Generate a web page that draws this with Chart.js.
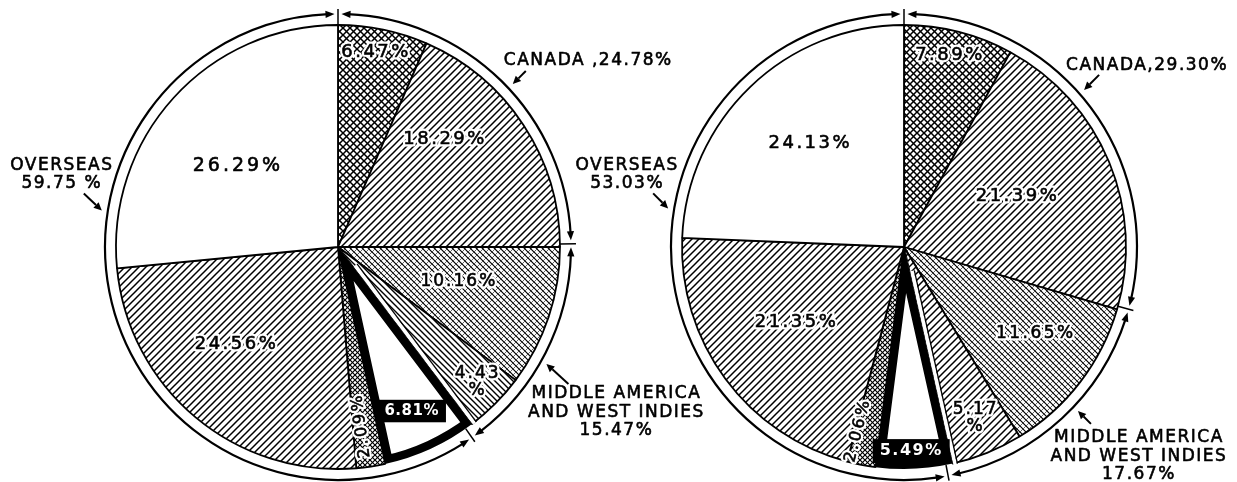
<!DOCTYPE html>
<html><head><meta charset="utf-8">
<script src="https://cdn.jsdelivr.net/npm/chart.js@4.4.1/dist/chart.umd.min.js"></script>
<style>
html,body{margin:0;padding:0;background:#fff;width:1237px;height:482px;overflow:hidden}
canvas{position:absolute;left:0;top:0}
</style></head><body>
<canvas id="c1" width="1237" height="482"></canvas>
<canvas id="c2" width="1237" height="482"></canvas>
<script>
// ---------- data ----------
const sliceLabels = ['Canada (a)','Canada (b)','Middle America (a)','Middle America (b)','Overseas (a)','Overseas (b)','Overseas (c)','Overseas (d)'];
const leftValues  = [6.47, 18.29, 10.16, 4.43, 6.81, 2.09, 24.56, 26.29];
const rightValues = [7.89, 21.39, 11.65, 5.17, 5.49, 2.06, 21.35, 24.13];
const groupNames = ['CANADA', 'MIDDLE AMERICA AND WEST INDIES', 'OVERSEAS'];
const leftGroupValues  = [24.78, 15.47, 59.75];
const rightGroupValues = [29.30, 17.67, 53.03];

// ---------- patterns ----------
function makePattern(kind){
  if (kind === 'white') return '#ffffff';
  const c = document.createElement('canvas');
  const s = {cross:7, fineCross:5, diagUp:7, diagDown:6, dotCross:6}[kind];
  c.width = s; c.height = s;
  const g = c.getContext('2d');
  g.fillStyle = '#fff'; g.fillRect(0,0,s,s);
  g.strokeStyle = '#000'; g.lineCap = 'square';
  function up(lw, col){ g.lineWidth = lw; g.strokeStyle = col||'#000'; g.beginPath();
    for (let k=-1;k<=1;k++){ g.moveTo(k*s, s); g.lineTo(k*s+s, 0); } g.stroke(); }
  function down(lw, col){ g.lineWidth = lw; g.strokeStyle = col||'#000'; g.beginPath();
    for (let k=-1;k<=1;k++){ g.moveTo(k*s, 0); g.lineTo(k*s+s, s); } g.stroke(); }
  if (kind==='cross'){ up(1.5); down(1.5); }
  if (kind==='fineCross'){ up(1.2); down(1.2); }
  if (kind==='diagUp'){ up(1.5); }
  if (kind==='diagDown'){ down(1.4); }
  if (kind==='dotCross'){ down(1.2); up(0.9,'#555'); }
  return g.createPattern(c, 'repeat');
}

// ---------- decoration plugin (ring arrows, labels) ----------
function polar(cx, cy, thetaDeg, r){ const a=(thetaDeg-90)*Math.PI/180; return [cx+r*Math.cos(a), cy+r*Math.sin(a)]; }
function setLS(ctx, v){ if ('letterSpacing' in ctx) ctx.letterSpacing = v + 'px'; }
const FONT = '"DejaVu Sans", "Liberation Sans", sans-serif';

function makeDecor(cfg){
  return {
    id: 'pieDecor',
    afterDatasetsDraw(chart){
      const ctx = chart.ctx;
      const ringMeta = chart.getDatasetMeta(0);
      const sliceMeta = chart.getDatasetMeta(2);
      const a0el = sliceMeta.data[0];
      const cx = a0el.x, cy = a0el.y, pieR = a0el.outerRadius;
      ctx.save();
      // white gap next to the heavy slice
      const th = sliceMeta.data[cfg.thick];
      if (th){
        const a = th.startAngle, px = Math.sin(a), py = -Math.cos(a);
        const seg = (off, lw, col) => { ctx.beginPath(); ctx.lineWidth = lw; ctx.strokeStyle = col;
          ctx.moveTo(cx + 25*Math.cos(a) + off*px, cy + 25*Math.sin(a) + off*py);
          ctx.lineTo(cx + (pieR+1)*Math.cos(a) + off*px, cy + (pieR+1)*Math.sin(a) + off*py); ctx.stroke(); };
        seg(2.6, 3.6, '#fff'); seg(5, 1.3, '#000');
      }
      // outer ring with arrows
      ctx.strokeStyle = '#000'; ctx.fillStyle = '#000';
      ringMeta.data.forEach(arc => {
        const r = (arc.innerRadius + arc.outerRadius)/2;
        const gap = 3.5 / r, L = 9 / r, w = 3.6;
        const s = arc.startAngle + gap, e = arc.endAngle - gap;
        ctx.lineWidth = 2.2;
        ctx.beginPath(); ctx.arc(cx, cy, r, s + L*0.7, e - L*0.7); ctx.stroke();
        [[s,1],[e,-1]].forEach(([a,dir]) => {
          const b = a + dir*L;
          ctx.beginPath();
          ctx.moveTo(cx + r*Math.cos(a), cy + r*Math.sin(a));
          ctx.lineTo(cx + (r+w)*Math.cos(b), cy + (r+w)*Math.sin(b));
          ctx.lineTo(cx + (r-w)*Math.cos(b), cy + (r-w)*Math.sin(b));
          ctx.closePath(); ctx.fill();
        });
        const t = arc.startAngle;
        ctx.lineWidth = 1.5;
        ctx.beginPath();
        ctx.moveTo(cx + pieR*Math.cos(t), cy + pieR*Math.sin(t));
        ctx.lineTo(cx + (arc.outerRadius+3)*Math.cos(t), cy + (arc.outerRadius+3)*Math.sin(t));
        ctx.stroke();
      });
      // slice labels
      const vals = chart.data.datasets[2].data;
      ctx.textAlign = 'center'; ctx.textBaseline = 'middle'; ctx.lineJoin = 'round';
      sliceMeta.data.forEach((arc, i) => {
        const L = cfg.labels[i]; if (!L) return;
        const a = arc.startAngle + L.t*(arc.endAngle - arc.startAngle);
        const r = L.r * arc.outerRadius;
        const x = cx + r*Math.cos(a), y = cy + r*Math.sin(a);
        const v = vals[i].toFixed(2);
        const lines = L.split ? [v, '%'] : [v + '%'];
        ctx.save();
        ctx.translate(x, y);
        if (L.rot) ctx.rotate(a + Math.PI);
        ctx.font = (L.bold ? 'bold ' : '') + L.size + 'px ' + FONT;
        setLS(ctx, L.ls);
        const lh = L.size * 1.0;
        if (L.inverse){
          const wd = ctx.measureText(lines[0]).width;
          ctx.fillStyle = '#000';
          ctx.fillRect(-wd/2 - 7, -L.size*0.75, wd + 14, L.size*1.5);
          ctx.fillStyle = '#fff';
          lines.forEach((ln,k) => ctx.fillText(ln, 0, (k-(lines.length-1)/2)*lh));
        } else {
          ctx.fillStyle = '#000';
          lines.forEach((ln,k) => { const yy=(k-(lines.length-1)/2)*lh;
            ctx.strokeStyle = '#fff'; ctx.lineWidth = 5; ctx.strokeText(ln, 0, yy);
            ctx.fillText(ln, 0, yy);
            ctx.strokeStyle = '#000'; ctx.lineWidth = 0.6; ctx.strokeText(ln, 0, yy); });
        }
        ctx.restore();
      });
      // group labels with pointer arrows
      const gvals = chart.data.datasets[0].data;
      cfg.groups.forEach((G, i) => {
        const tip = polar(cx, cy, G.theta, 239);
        const tail = [tip[0] + G.tail[0], tip[1] + G.tail[1]];
        ctx.strokeStyle = '#000'; ctx.fillStyle = '#000'; ctx.lineWidth = 2;
        const ang = Math.atan2(tip[1]-tail[1], tip[0]-tail[0]);
        const hl = 8, hw = 3.8;
        const bx = tip[0] - hl*Math.cos(ang), by = tip[1] - hl*Math.sin(ang);
        ctx.beginPath(); ctx.moveTo(tail[0], tail[1]); ctx.lineTo(bx, by); ctx.stroke();
        ctx.beginPath(); ctx.moveTo(tip[0], tip[1]);
        ctx.lineTo(bx + hw*Math.sin(ang), by - hw*Math.cos(ang));
        ctx.lineTo(bx - hw*Math.sin(ang), by + hw*Math.cos(ang));
        ctx.closePath(); ctx.fill();
        ctx.font = '17px ' + FONT; setLS(ctx, 1.5);
        ctx.textAlign = G.align; ctx.textBaseline = 'middle';
        ctx.lineWidth = 0.6;
        G.lines.forEach((ln, k) => {
          const txt = ln.replace('{v}', gvals[i].toFixed(2));
          const tx = tip[0] + G.dx, ty = tip[1] + G.dy + k*18.5;
          ctx.fillText(txt, tx, ty); ctx.strokeText(txt, tx, ty);
        });
      });
      ctx.restore();
    }
  };
}

function makeChart(id, values, groupValues, patternKeys, padding, cfg){
  const bw = values.map((v,i) => i === cfg.thick ? 8 : 1.8);
  const ba = values.map((v,i) => i === cfg.thick ? 'inner' : 'center');
  return new Chart(document.getElementById(id), {
    type: 'pie',
    data: {
      labels: sliceLabels,
      datasets: [
        { label: 'groups', data: groupValues, weight: 4, backgroundColor: 'rgba(0,0,0,0)', borderWidth: 0, clip: false },
        { label: 'gap', data: [1], weight: 9, backgroundColor: 'rgba(0,0,0,0)', borderWidth: 0, clip: false },
        { label: 'share', data: values, weight: 222, backgroundColor: patternKeys.map(makePattern),
          borderColor: '#000', borderWidth: bw, borderAlign: ba, clip: false }
      ]
    },
    options: {
      responsive: false, animation: false, devicePixelRatio: 1, radius: 235,
      layout: { padding }, events: [],
      plugins: { legend: { display: false }, tooltip: { enabled: false } }
    },
    plugins: [makeDecor(cfg)]
  });
}

makeChart('c1', leftValues, leftGroupValues,
  ['cross','diagUp','dotCross','diagDown','white','fineCross','diagUp','white'],
  { left: 0, right: 561, top: 12, bottom: 0 },
  {
    thick: 4,
    labels: [
      {t:.47, r:.895, size:18, ls:2.5},
      {t:.32, r:.685, size:18, ls:2.5},
      {t:.43, r:.566, size:17, ls:2},
      {t:.45, r:.876, size:17, ls:2, split:true},
      {t:.52, r:.81,  size:15, ls:0.5, bold:true, inverse:true},
      {t:.65, r:.81,  size:16, ls:3, rot:true},
      {t:.57, r:.634, size:18, ls:2.5},
      {t:.466,r:.58,  size:19, ls:3}
    ],
    groups: [
      {theta:47,    tail:[13,-13], dx:-9,  dy:-23, align:'left',   lines:['CANADA ,{v}%']},
      {theta:119.3, tail:[22,20],  dx:70,  dy:30,  align:'center', lines:['MIDDLE AMERICA','AND WEST INDIES','{v}%']},
      {theta:278.8, tail:[-18,-17],dx:-40, dy:-45, align:'center', lines:['OVERSEAS','{v} %']}
    ]
  });

makeChart('c2', rightValues, rightGroupValues,
  ['cross','diagUp','dotCross','diagUp','white','fineCross','diagUp','white'],
  { left: 571, right: 0, top: 12, bottom: 0 },
  {
    thick: 4,
    labels: [
      {t:.47, r:.89,  size:18, ls:2.5},
      {t:.48, r:.56,  size:18, ls:2.5},
      {t:.40, r:.71,  size:17, ls:2.5},
      {t:.46, r:.836, size:17, ls:2, split:true},
      {t:.53, r:.92,  size:16, ls:1.5, bold:true, inverse:true},
      {t:.90, r:.85,  size:16, ls:3, rot:true},
      {t:.52, r:.59,  size:18, ls:2.5},
      {t:.52, r:.63,  size:18, ls:2.5}
    ],
    groups: [
      {theta:48.9,  tail:[15,-15], dx:-18, dy:-24, align:'left',   lines:['CANADA,{v}%']},
      {theta:133.3, tail:[13,13],  dx:61,  dy:27,  align:'center', lines:['MIDDLE AMERICA','AND WEST INDIES','{v}%']},
      {theta:279.3, tail:[-15,-15],dx:-41, dy:-43, align:'center', lines:['OVERSEAS','{v}%']}
    ]
  });
</script>
</body></html>
